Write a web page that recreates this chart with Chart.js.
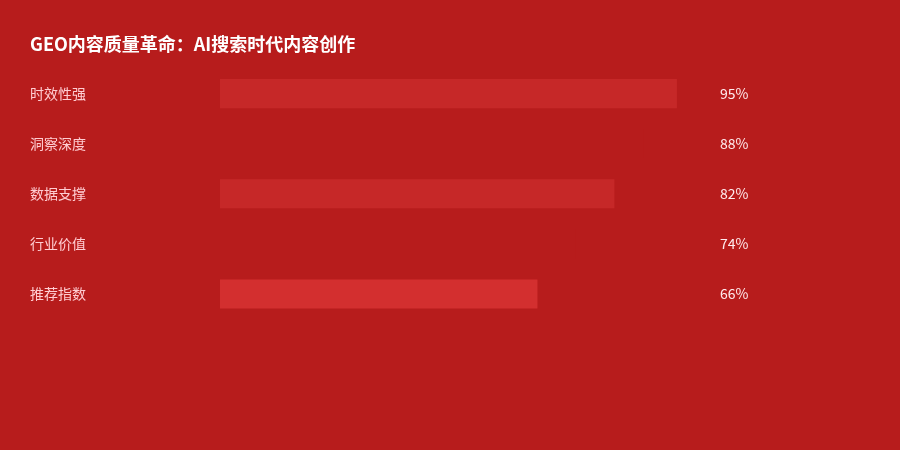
<!DOCTYPE html>
<html>
<head>
<meta charset="utf-8">
<script src="https://cdn.jsdelivr.net/npm/chart.js@4/dist/chart.umd.min.js"></script>
<style>
  html, body { margin: 0; padding: 0; background: #B71C1C; }
  #wrap { width: 900px; height: 450px; }
</style>
</head>
<body>
<div id="wrap"><canvas id="chart"></canvas></div>
<script>
const titleText = 'GEO内容质量革命：AI搜索时代内容创作';
const categories = ['时效性强', '洞察深度', '数据支撑', '行业价值', '推荐指数'];
const scores = [95, 88, 82, 74, 66];
const barColors = ['#C62828', '#B71C1C', '#C62828', '#B71C1C', '#D32F2F'];

const font = '"Noto Sans CJK SC", "Noto Sans", sans-serif';

// value text to the right of the plot area
const valueLabels = {
  id: 'valueLabels',
  afterDatasetsDraw(chart) {
    const ctx = chart.ctx;
    const meta = chart.getDatasetMeta(0);
    ctx.save();
    ctx.font = '14px ' + font;
    ctx.fillStyle = '#FFEBEE';
    ctx.textAlign = 'left';
    ctx.textBaseline = 'middle';
    meta.data.forEach((bar, i) => {
      ctx.fillText(scores[i] + '%', chart.chartArea.right + 19, bar.y);
    });
    ctx.restore();
  }
};

new Chart(document.getElementById('chart'), {
  type: 'bar',
  data: {
    labels: categories,
    datasets: [{
      data: scores,
      backgroundColor: barColors,
      borderWidth: 0,
      categoryPercentage: 1,
      barPercentage: 0.58
    }]
  },
  options: {
    indexAxis: 'y',
    responsive: true,
    maintainAspectRatio: false,
    animation: false,
    layout: { padding: { left: 30, right: 199, top: 0, bottom: 131 } },
    scales: {
      x: { display: false, min: 0, max: 100 },
      y: {
        grid: { display: false, drawBorder: false },
        border: { display: false },
        ticks: {
          crossAlign: 'far',
          color: '#FFCDD2',
          font: { family: font, size: 14 }
        },
        afterFit(scale) { scale.width = 190; }
      }
    },
    plugins: {
      legend: { display: false },
      tooltip: { enabled: false },
      title: {
        display: true,
        text: titleText,
        align: 'start',
        color: '#FFFFFF',
        font: { family: font, size: 18, weight: 'bold', lineHeight: 1.2 },
        padding: { top: 33, bottom: 14 }
      }
    }
  },
  plugins: [valueLabels]
});
</script>
</body>
</html>
